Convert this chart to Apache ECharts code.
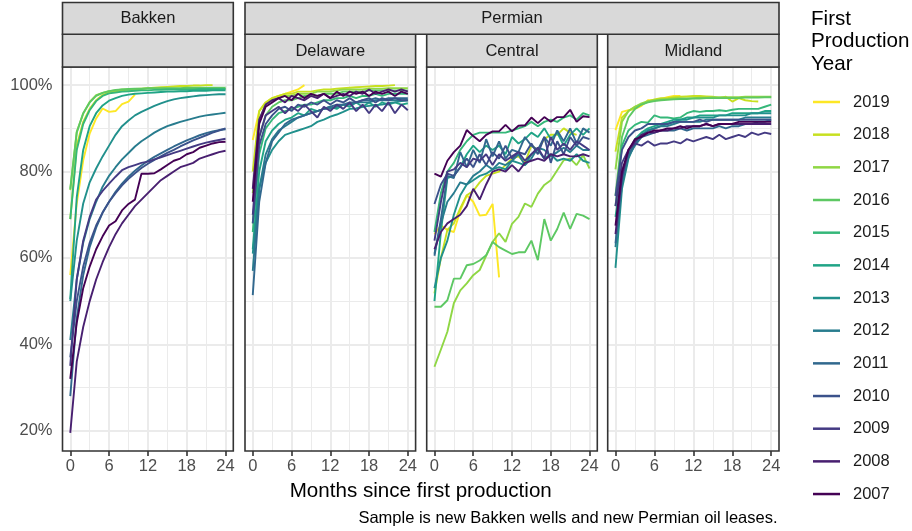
<!DOCTYPE html>
<html><head><meta charset="utf-8">
<script src="https://cdn.jsdelivr.net/npm/echarts@6/dist/echarts.min.js"></script>
<style>html,body{margin:0;padding:0;background:#fff}#c{width:912px;height:531px}</style>
</head><body><div id="c"></div>
<script>
// ---------- DATA ----------
const years = [2007,2008,2009,2010,2011,2012,2013,2014,2015,2016,2017,2018,2019];
const months = [0,1,2,3,4,5,6,7,8,9,10,11,12,13,14,15,16,17,18,19,20,21,22,23,24];
const xTicks = [0,6,12,18,24];
const yTicks = [20,40,60,80,100];
const panelNames = ['Bakken','Delaware','Central','Midland'];
const basinNames = ['Bakken','Permian'];
const yearColors = ['#440154','#481F70','#443A83','#3B528B','#31688E','#287C8E','#21908C','#20A486','#35B779','#5DC863','#8FD744','#C7E020','#FDE725'];

// values in %, one row per year (2007 ... 2019), one value per month
const bakkenValues = [
  [32,45,53,58,62,65,67.5,68.5,71,72.5,73.5,79.5,79.5,79.6,80.5,81.5,82.5,83,84,84.5,85.5,86,86.5,86.8,86.9],
  [19.5,36,44,50,55,59,62.5,65.5,68,70,72,73.5,75,76.5,78,79,80,81,81.5,82,83,83.5,84,84.5,84.8],
  [35,55,64,69.5,73.5,75.5,77.2,78.8,80.3,81,81.5,82,82.3,82.8,83.3,83.8,84.3,84.8,85.3,85.8,86.3,86.7,87,87.3,87.6],
  [37,50,58,63.5,67.5,70.5,73,75,76.8,78.3,79.6,80.8,81.8,82.7,83.5,84.3,85,85.8,86.5,87.2,87.8,88.4,89,89.5,90],
  [28,46,56,62.5,67,70.5,73,75.3,77.2,78.8,80.2,81.4,82.5,83.4,84.2,85,85.8,86.5,87.2,87.8,88.4,88.9,89.3,89.6,89.8],
  [41,55,63.5,69,73,76.5,79,81,82.8,84.3,85.8,87,88,89,89.8,90.5,91,91.5,91.9,92.3,92.7,93,93.2,93.4,93.6],
  [50,64,72.6,77.5,80.7,83.5,86,88.5,90.5,91.8,93,93.8,94.5,95.2,95.8,96.3,96.7,97,97.2,97.4,97.6,97.7,97.8,97.9,97.9],
  [50.5,74,85,90.5,93.5,95.3,96.4,97,97.5,97.8,98,98.1,98.2,98.3,98.4,98.5,98.5,98.6,98.6,98.7,98.7,98.7,98.8,98.8,98.8],
  [69,85,91,94.2,96.3,97.5,98.1,98.3,98.5,98.6,98.7,98.8,98.8,98.9,98.9,99,99,99,99,99,99.1,99.1,99.1,99.1,99.1],
  [76,89,93.5,96,97.5,98.2,98.6,98.9,99,99.1,99.2,99.2,99.3,99.3,99.3,99.3,99.3,99.3,99.4,99.4,99.4,99.4,99.4,99.4,99.4],
  [75.7,89.2,93.4,96.1,97.7,98.2,98.6,98.8,99,99,99.1,99.1,99.2,99.2,99.2,99.2,99.2,99.2,99.2,99.2,99.2,99.2,99.2,99.2,99.2],
  [69,86,91.5,94.5,96.5,97.7,98.3,98.6,98.8,99,99.1,99.2,99.3,99.4,99.5,99.6,99.7,99.8,99.8,99.9,99.9,100,100],
  [56,72.6,82.6,88.8,92.3,94.6,93.8,94,95.6,96.2,97.8]
];
const delawareValues = [
  [73,91,95,96,97,97.5,96.5,98,97,98,97.5,98,97,98.5,97.5,98.5,98,98.5,97.5,98.5,98,98.5,97.5,98.5,98],
  [76,92,95.5,96.5,97,96,97.5,97,96.5,97.5,97,98,97,97.5,98,97.5,98.5,98,99,98,98.5,99,98.5,99,98.5],
  [70,88,93,94,95,93.5,95,94,95.5,94,92.5,95,94,95.5,94.5,96,94,95.5,93.5,95.5,94,96,93.5,95.5,94.2],
  [68,86,91,93,94.5,95,94,95.5,95,96,95.5,96.5,95.5,96.5,96,97,96,96.5,97,96,97,96.5,97,96.5,96.5],
  [51.4,73,82,87,89,91,92,92.5,93,93.5,94,94.5,95,95.5,95.5,96,96,96.5,96.5,97,96.5,97,97,97,97],
  [57,76,84,87.5,89.5,90.5,91.5,92.5,93,93.5,94,94.5,94.5,95,95.5,95.5,96,96,96,96.5,96.5,96.5,96.5,96.5,96.5],
  [61,76,82,85,87,88.5,89,89.5,90,90.5,91.5,92,92.7,93.2,93.8,94.5,94.6,95,95.2,95.4,95.5,95.8,96,96.3,96.5],
  [62,80,87,89.5,91,92,92.5,93.5,93,94.5,94,94.5,95,94.5,95.5,95,96,95,96,95,96,95.5,96,95.5,95.8],
  [66,84,90,92,93.5,94,94.5,95,95.5,95.5,96,96.5,96.5,97,97,97.5,97,97.5,97.5,98,97.5,98,98,98,98],
  [68,88,93,95,96,96.5,96.5,97,97.5,97.5,97.5,98,98,98,98.5,98.5,98.5,98.5,98.8,98.8,98.8,98.8,98.8,98.8,98.8],
  [75,92,95.5,96.5,97,97.5,97.5,98,98,98,98.5,98.5,98.5,98.8,99,99,99,99,99.2,99.2,99.2,99.3,99.3,99.3,99.3],
  [80,94,96,97,97.5,98,98,98.5,98.5,98.5,98.8,99,99,99.2,99.3,99.4,99.5,99.6,99.7,99.8,99.8,99.9,100],
  [87.3,94,96,97,97.5,98,98.5,99,100]
];
const centralValues = [
  [79.5,78.8,82.5,84.5,86,89.6,88.2,87,88.5,89.3,89.3,90.8,89.3,90.6,90.7,92.5,91.2,92.6,91.5,92.6,92.6,94.3,91.5,92.8,92.6],
  [62,66,68,69,70,72,76,73.5,77,80,80.5,80,81.5,80,82,82.5,83,82.5,84,83.5,84,83.5,83.5,84,83.5],
  [64,73,80,80.5,82,81,83,82.5,84,81.5,84,82.5,83.5,84.5,82.5,84,85.5,83,88,85,86.5,85,87,86,85],
  [72.5,77,79.5,79,81,83,81,84,81.5,84.5,83,86,83,84.5,84,86.5,84,88,82,87,84,88,86,88,87.5],
  [60.5,69,79,78.5,84.5,81,85,82,87.5,83.5,87,83,85,84.5,88,86,85,88,86,89.5,87,90,86.5,90,89],
  [61,68,73,75,77.5,77,79,80,81.5,80.5,82,81.5,82.5,84,81.5,83,85.5,85,83.5,84.5,85.5,84.5,86,85,85],
  [53,60,64,70,74.5,77,78,79,79.5,80.5,81,80.5,82.5,82,81.5,84,85,83,84,82.5,83,82.5,84,82.5,82],
  [50,66,78.5,79,81,84,86,84.5,86,85,86,84,88,86.5,87.5,89,88,90,87.5,89,86,88.5,90,88.5,90],
  [66,75,80,82,85,87,88.5,89,89,89,89,89,89.5,90,90.5,91.5,90.5,91.5,92,91.5,92.5,93,92,93.5,93],
  [48.7,48.7,50.2,55.2,55.2,58.3,58.6,59.4,60.6,63.7,62.5,61.7,60.9,61.3,61.3,64,59.5,69,64,66.7,70.5,66.7,70.2,69.8,69],
  [34.8,38.8,42.9,49.5,52.5,54.1,56,57.2,60.5,63.7,65.7,63.7,67.9,69.5,72.6,71.8,74.9,76.9,78,80.3,82.6,83,81.5,83.8,80.7],
  [51.8,60,66.5,68,71.5,74.5,75.5,77.5,79,79.5,80,81.5,83,83.5,82,86,85,87.5,88.5,88.5,90,89,88.5],
  [65.5,67.5,66.5,66,71,74.5,73,69.8,70,72.5,55.5]
];
const midlandValues = [
  [67.5,80,85,87.5,88,89,89.5,89.5,90,90,90.5,90,90.5,90.5,91,90.5,91,91,91,91.5,91.5,91.5,91.5,91.5,91.5],
  [65.5,79,85,87,88.5,89,89,89.5,89.5,90,90,90.5,90.5,90.5,91,90.5,91,91,91,91,91,91,91,91,91],
  [72,82,85,86.5,86,87,86,86.5,86.5,87,86.5,87.5,87,87.5,88,87.5,88.5,87.5,88,88.5,88,89,88.5,89,88.7],
  [74.3,85,88,89.5,90,91,91,91,91,91.5,91.5,91.5,91.5,92,91.5,92,92,92,92,92,92,92,92,92,92],
  [63.4,78,84,86.5,88,88.5,89,89.5,89.5,89.5,90,89.5,90,90,90,90,90.5,90,90.5,90.5,91,91,91.5,91.5,92],
  [62.5,77,83.5,86,88,89.5,90,90.5,90.5,91,91.5,91.5,91.5,91.5,92,92,92,92,92,92,92.5,92.5,92.5,92.5,92.5],
  [57.7,76,83,86.5,88.5,89.5,90,90.5,91,91.5,92,92,92.5,92.5,92.5,92.5,93,93,93,93,93,93.5,93.5,93.5,93.5],
  [69.5,80,84.5,87.5,89,90,90.5,91,91.5,92,92,92.5,92.5,93,93,93,93,93,93.5,93.5,93.5,93.5,93.5,94,94],
  [72,86,89.5,90.8,91.5,91.3,93,92.5,92.5,92.3,92.5,93.5,94,93.8,94,94,94.2,94,94.3,94.5,94.5,94.5,94.5,95,95.5],
  [74.5,88,92.5,94.5,95.5,96,96.3,96.5,96.6,96.7,96.8,96.8,96.9,96.9,97,97,97,97,97,97,97.1,97.1,97.1,97.2,97.2],
  [80.5,91.5,94,95,95.8,96.3,96.5,96.7,96.8,96.9,97,97,97,97.1,97.1,97.2,97.2,97.2,97.2,97.2,97.3,97.3,97.3,97.3,97.3],
  [84.6,92.5,94,95,95.5,96.2,96.7,97,97,97.2,97.3,97.4,97.5,97.5,97.4,97.3,97,97.3,96.2,97,96.5,96.3,96.2],
  [89.6,93.8,94.2,94.5,95.2,96.5,96.5,96.8,97.2,97.5,97.5]
];
const panelValues = [bakkenValues, delawareValues, centralValues, midlandValues];

// ---------- LAYOUT ----------
const FONT = '"Liberation Sans", Arial, Helvetica, sans-serif';
const panels = [
  {left: 62.5, right: 233.3},
  {left: 245, right: 415.6},
  {left: 426.7, right: 597.3},
  {left: 607.7, right: 779}
];
const plotTop = 67, plotBottom = 451;
const xMin = -1.2, xMax = 25.2, yMin = 15.3, yMax = 104.2;

const grids = [], xAxes = [], yAxes = [], series = [], graphics = [];

panels.forEach((p, i) => {
  grids.push({left: p.left, top: plotTop, width: p.right - p.left, height: plotBottom - plotTop,
    show: true, backgroundColor: '#fff', borderWidth: 0});
  xAxes.push({type: 'value', gridIndex: i, min: xMin, max: xMax,
    axisLine: {show: false}, splitLine: {show: false},
    axisTick: {show: true, customValues: xTicks, length: 5, lineStyle: {color: '#333', width: 1.6}},
    axisLabel: {show: true, customValues: xTicks, margin: 7, color: '#4D4D4D', fontSize: 16.5, fontFamily: FONT}
  });
  yAxes.push({type: 'value', gridIndex: i, min: yMin, max: yMax,
    axisLine: {show: false}, splitLine: {show: false},
    axisTick: {show: i === 0, customValues: yTicks, length: 5, lineStyle: {color: '#333', width: 1.6}},
    axisLabel: {show: i === 0, customValues: yTicks, margin: 10, color: '#4D4D4D', fontSize: 16.5, fontFamily: FONT,
      formatter: v => v + '%'}
  });
  // panel grid lines
  const ml = [];
  for (let v = 0; v <= 24; v += 3) ml.push({xAxis: v, lineStyle: {width: v % 6 === 0 ? 2 : 1}});
  for (let v = 20; v <= 100; v += 10) ml.push({yAxis: v, lineStyle: {width: v % 20 === 0 ? 2 : 1}});
  series.push({type: 'line', xAxisIndex: i, yAxisIndex: i, data: [], silent: true, z: 1,
    markLine: {silent: true, z: 1, symbol: ['none', 'none'], animation: false, label: {show: false},
      lineStyle: {color: '#EBEBEB', type: 'solid'}, emphasis: {disabled: true}, data: ml}});
  // year lines, 2019 first so 2007 is on top
  for (let k = years.length - 1; k >= 0; k--) {
    const vals = panelValues[i][k];
    series.push({type: 'line', name: String(years[k]), xAxisIndex: i, yAxisIndex: i, z: 3,
      data: vals.map((v, m) => [months[m], v]),
      symbol: 'none', showSymbol: false, silent: true,
      lineStyle: {color: yearColors[k], width: 1.9}, itemStyle: {color: yearColors[k]}});
  }
  // panel border
  graphics.push({type: 'rect', z: 100, silent: true,
    shape: {x: p.left, y: plotTop, width: p.right - p.left, height: plotBottom - plotTop},
    style: {fill: 'none', stroke: '#333', lineWidth: 1.6}});
  // lower strip
  graphics.push({type: 'rect', z: 100, silent: true,
    shape: {x: p.left, y: 34.3, width: p.right - p.left, height: plotTop - 34.3},
    style: {fill: '#D9D9D9', stroke: '#333', lineWidth: 1.6}});
  if (i > 0) {
    graphics.push({type: 'text', z: 101, silent: true,
      style: {text: panelNames[i], x: (p.left + p.right) / 2, y: 51, textAlign: 'center', textVerticalAlign: 'middle',
        font: '16.5px ' + FONT, fill: '#1A1A1A'}});
  }
});
// upper strips (basins)
const upper = [{l: panels[0].left, r: panels[0].right}, {l: panels[1].left, r: panels[3].right}];
upper.forEach((u, j) => {
  graphics.push({type: 'rect', z: 100, silent: true,
    shape: {x: u.l, y: 2.5, width: u.r - u.l, height: 31.8},
    style: {fill: '#D9D9D9', stroke: '#333', lineWidth: 1.6}});
  graphics.push({type: 'text', z: 101, silent: true,
    style: {text: basinNames[j], x: (u.l + u.r) / 2, y: 18.6, textAlign: 'center', textVerticalAlign: 'middle',
      font: '16.5px ' + FONT, fill: '#1A1A1A'}});
});
// titles
graphics.push({type: 'text', silent: true,
  style: {text: 'Months since first production', x: (panels[0].left + panels[3].right) / 2, y: 491,
    textAlign: 'center', textVerticalAlign: 'middle', font: '20.6px ' + FONT, fill: '#000'}});
graphics.push({type: 'text', silent: true,
  style: {text: 'Sample is new Bakken wells and new Permian oil leases.', x: 777.5, y: 518,
    textAlign: 'right', textVerticalAlign: 'middle', font: '16.5px ' + FONT, fill: '#000'}});
graphics.push({type: 'text', silent: true,
  style: {text: 'First\nProduction\nYear', x: 811, y: 7.5, lineHeight: 22.7,
    textAlign: 'left', textVerticalAlign: 'top', font: '20.6px ' + FONT, fill: '#000'}});

const chart = echarts.init(document.getElementById('c'), null, {renderer: 'canvas'});
chart.setOption({
  animation: false,
  backgroundColor: '#fff',
  grid: grids, xAxis: xAxes, yAxis: yAxes, series: series,
  legend: {orient: 'vertical', left: 808, top: 87, icon: 'rect', itemWidth: 27, itemHeight: 2.5,
    itemGap: 12.67, selectedMode: false,
    data: years.slice().reverse().map(String),
    textStyle: {fontSize: 16.5, fontFamily: FONT, color: '#1A1A1A', lineHeight: 20, padding: [0, 0, 0, 8]}},
  graphic: graphics
});
</script></body></html>
